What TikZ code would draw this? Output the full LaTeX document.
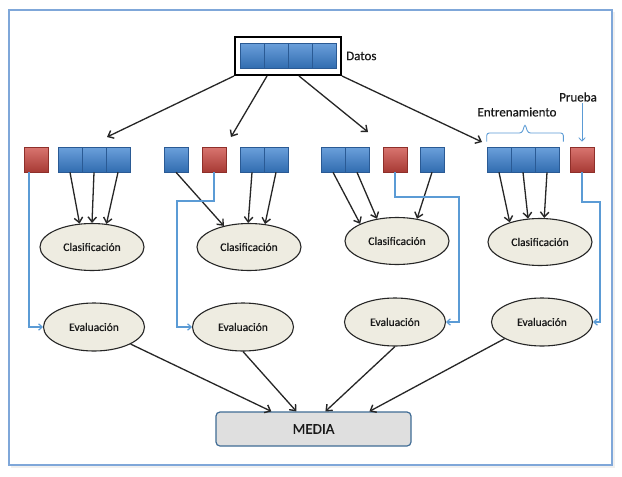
\documentclass[tikz,border=0pt]{standalone}
\usepackage{fontspec}
\setmainfont{Carlito}[FakeBold=0.5]
\usetikzlibrary{shapes.geometric,arrows.meta,calc}

\definecolor{azul}{HTML}{3A80CF}
\definecolor{azuloscuro}{HTML}{2A5A94}
\definecolor{rojo}{HTML}{CC4740}
\definecolor{rojooscuro}{HTML}{8E2F2A}
\definecolor{lineaazul}{HTML}{5B9BD5}
\definecolor{marco}{HTML}{7FA7D9}
\definecolor{crema}{HTML}{EEECE1}
\definecolor{gris}{HTML}{DFDFDF}

\begin{document}
\begin{tikzpicture}[x=1pt, y=-1pt, >={Straight Barb[length=5pt,width=8.5pt,line width=1.4pt]},
    bloque/.style={rectangle, minimum width=24pt, minimum height=25pt, inner sep=0pt,
        top color=azul!75!white, bottom color=azul!85!black, draw=azuloscuro, line width=0.6pt},
    bloquerojo/.style={bloque, top color=rojo!75!white, bottom color=rojo!82!black, draw=rojooscuro},
    elipse/.style={ellipse, draw=black!85, line width=1.1pt, fill=crema, inner sep=0pt,
        text=black!90, font=\fontsize{11.5}{13}\selectfont},
    clasif/.style={elipse, minimum width=104pt, minimum height=47pt},
    evalua/.style={elipse, minimum width=101pt, minimum height=48pt},
    etiqueta/.style={inner sep=1pt, text=black!90, font=\fontsize{13}{15}\selectfont},
    flecha/.style={->, line width=1.3pt, black!85},
    conector/.style={-{Straight Barb[length=3.5pt,width=6.5pt]}, line width=1.2pt, lineaazul}]

    \useasboundingbox (0,0) rectangle (622,477);
    \fill[black!6] (11,12) rectangle (615,468);
    \filldraw[fill=white, draw=marco, line width=1.5pt] (9,10) rectangle (612,465);

    \node[draw, line width=2pt, minimum width=106pt, minimum height=38pt, inner sep=0pt] (datos) at (288,56) {};
    \foreach \i/\x in {1/252,2/276,3/300,4/324}
        \node[bloque] (d\i) at (\x,55.5) {};
    \node[etiqueta, anchor=west] (datoslbl) at (345,56) {Datos};

    \node[bloquerojo] (r1) at (36,159.5) {};
    \node[bloque] (b11) at (70,159.5) {};
    \node[bloque] (b12) at (94,159.5) {};
    \node[bloque] (b13) at (118,159.5) {};

    \node[bloque] (b21) at (176,159.5) {};
    \node[bloquerojo] (r2) at (214,159.5) {};
    \node[bloque] (b22) at (252,159.5) {};
    \node[bloque] (b23) at (276,159.5) {};

    \node[bloque] (b31) at (333,159.5) {};
    \node[bloque] (b32) at (357,159.5) {};
    \node[bloquerojo] (r3) at (395,159.5) {};
    \node[bloque] (b33) at (432,159.5) {};

    \node[bloque] (b41) at (499,159.5) {};
    \node[bloque] (b42) at (523,159.5) {};
    \node[bloque] (b43) at (547,159.5) {};
    \node[bloquerojo] (r4) at (582,159.5) {};

    \node[etiqueta] (entrena) at (517,112) {Entrenamiento};
    \node[etiqueta] (prueba) at (578,97) {Prueba};
    \coordinate (llizq) at ([yshift=5pt]b41.north west);
    \coordinate (llder) at ([xshift=4pt,yshift=5pt]b43.north east);
    \coordinate (llpico) at (525,124);
    \draw[lineaazul, line width=0.9pt, rounded corners=2.5pt]
        (llizq) |- ($(llpico)+(-3,9)$) -- (llpico) -- ($(llpico)+(3,9)$) -| (llder);
    \draw[conector, line width=0.8pt] (prueba.south -| r4.north) -- ([yshift=5pt]r4.north);

    \coordinate (p1) at (107,137);
    \coordinate (p2) at (231,137);
    \coordinate (p3) at (368,132);
    \coordinate (p4) at (482,142);
    \draw[flecha] (datos.south west) -- (p1);
    \draw[flecha] ($(datos.south west)+(33,0)$) -- (p2);
    \draw[flecha] ($(datos.south west)+(65,0)$) -- (p3);
    \draw[flecha] (datos.south east) -- (p4);

    \node[clasif] (cls1) at (92,247) {Clasificación};
    \node[clasif] (cls2) at (249,247) {Clasificación};
    \node[clasif] (cls3) at (397,241) {Clasificación};
    \node[clasif] (cls4) at (540,242) {Clasificación};

    \node[evalua] (ev1) at (94,327) {Evaluación};
    \node[evalua] (ev2) at (243,327) {Evaluación};
    \node[evalua] (ev3) at (395,322) {Evaluación};
    \node[evalua] (ev4) at (542,322) {Evaluación};

    \node[draw=lineaazul!70!black, fill=gris, rounded corners=4pt, line width=1.2pt,
        minimum width=195pt, minimum height=34pt, text=black!90,
        font=\fontsize{15}{17}\selectfont] (media) at (313.5,429) {MEDIA};

    \draw[flecha] (b11.south) -- (cls1.118);
    \draw[flecha] (b12.south) -- (cls1.90);
    \draw[flecha] (b13.south) -- (cls1.58);
    \draw[flecha] (b21.south) -- (cls2.140);
    \draw[flecha] (b22.south) -- (cls2.92);
    \draw[flecha] (b23.south) -- (cls2.55);
    \draw[flecha] (b31.south) -- (cls3.155);
    \draw[flecha] (b32.south) -- (cls3.132);
    \draw[flecha] (b33.south) -- (cls3.48);
    \draw[flecha] (b41.south) -- (cls4.147);
    \draw[flecha] (b42.south) -- (cls4.117);
    \draw[flecha] (b43.south) -- (cls4.80);

    \coordinate (q2) at (177,201);
    \coordinate (q3) at (459,197);
    \coordinate (q4) at (600,202);
    \draw[conector] ([xshift=-7pt]r1.south) |- (ev1.west);
    \draw[conector] (r2.south) |- (q2) |- (ev2.west);
    \draw[conector] (r3.south) |- (q3) |- (ev3.east);
    \draw[conector] (r4.south) |- (q4) |- (ev4.east);

    \draw[flecha] (ev1.-25) -- ($(media.north west)+(56,0)$);
    \draw[flecha] (ev2.south) -- ($(media.north west)+(81,0)$);
    \draw[flecha] (ev3.south) -- ($(media.north west)+(110,0)$);
    \draw[flecha] (ev4.204) -- ($(media.north west)+(154,0)$);
\end{tikzpicture}
\end{document}
